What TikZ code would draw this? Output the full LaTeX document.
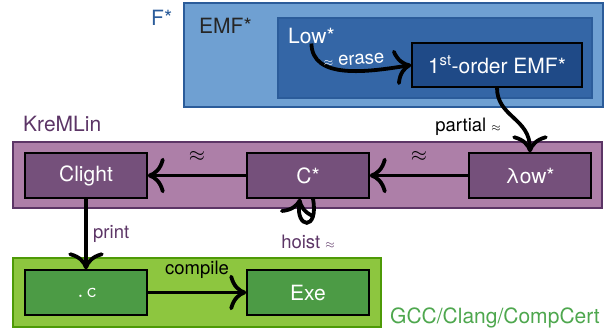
\documentclass[tikz,border=0pt]{standalone}
\usepackage{fontspec}
\setmainfont{TeX Gyre Heros}
\usepackage{xcolor}
\usepackage{tikz}
\usetikzlibrary{arrows.meta}
\definecolor{skyLight}{HTML}{6FA0D2}
\definecolor{skyMid}{HTML}{3466A6}
\definecolor{skyDark}{HTML}{1F4A87}
\definecolor{skyLine}{HTML}{2B5C9A}
\definecolor{plumLight}{HTML}{AD7FA8}
\definecolor{plumMid}{HTML}{75507B}
\definecolor{plumDark}{HTML}{5C3566}
\definecolor{greenLight}{HTML}{8DC63F}
\definecolor{greenMid}{HTML}{4C9B45}
\definecolor{greenDark}{HTML}{4E9A06}
\definecolor{greenText}{HTML}{4EA74E}

\begin{document}
\begin{tikzpicture}[x=1pt,y=-1pt]
        \tikzstyle{every node}+=[inner sep=0pt, font=\fontsize{21}{25}\selectfont]
        \tikzstyle{stagebox}=[draw=black, line width=1.5pt, minimum width=122pt, minimum height=45pt, text=white]
        \tikzstyle{lbl}=[font=\fontsize{18.5}{22}\selectfont]
        \tikzstyle{arr}=[-{To[scale=1.7]}, line width=3.8pt, black]
        \useasboundingbox (0,0) rectangle (613,330);
        \draw [skyLine, fill=skyLight, line width=1.5pt] (184,3) rectangle (603,107);
        \node [anchor=base west, text=skyLine] (fstar) at (151,25) {F*};
        \node [anchor=base west, text=black!85] (emflbl) at (199,33) {EMF*};
        \draw [skyLine, fill=skyMid, line width=1.5pt] (278,18) rectangle (592,98);
        \node [anchor=base west, text=white] (low) at (288,43) {Low*};
        \node [stagebox, fill=skyDark, minimum width=170pt, minimum height=44pt] (fst) at (497,65) {1\textsuperscript{st}-order EMF*};
        \draw [arr] (low.south) .. controls (312,80) and (368,72) .. (fst.west);
        \node [lbl, text=white, rotate=4] (erase) at (354,60) {$\scriptstyle\approx$ erase};
        \draw [plumDark, fill=plumLight, line width=1.5pt] (13,142) rectangle (602,208);
        \node [anchor=base west, text=plumDark] (kremlin) at (23,131) {KreMLin};
        \node [stagebox, fill=plumMid] (clight) at (86,175.5) {Clight};
        \node [stagebox, fill=plumMid] (cstar) at (308,175.5) {C*};
        \node [stagebox, fill=plumMid] (lowstar) at (530,175.5) {λow*};
        \draw [arr] (fst.south) .. controls (497,117) and (530,118) .. (lowstar.north);
        \node [lbl, anchor=east] (partial) at (501,127) {partial $\scriptstyle\approx$};
        \draw [arr] (lowstar) -- node [above=12pt] {$\approx$} (cstar);
        \draw [arr] (cstar) -- node [above=12pt] {$\approx$} (clight);
        \draw [arr] ([xshift=5pt]cstar.south) .. controls +(6,33) and +(-5,30) .. ([xshift=-8pt]cstar.south);
        \node [lbl, text=plumDark] (hoist) at (308,242) {hoist $\scriptstyle\approx$};
        \draw [greenDark, fill=greenLight, line width=1.5pt] (13,258) rectangle (381,327);
        \node [stagebox, fill=greenMid] (dotc) at (86,292.5) {\texttt{.c}};
        \node [stagebox, fill=greenMid] (exe) at (308,292.5) {Exe};
        \draw [arr] (clight) -- (dotc);
        \node [lbl, anchor=west, text=plumDark] (print) at (93,234) {print};
        \draw [arr] (dotc) -- node [lbl, above=12pt] {compile} (exe);
        \node [anchor=base west, text=greenText] (gcc) at (390,323) {GCC/Clang/CompCert};
    \end{tikzpicture}
\end{document}
